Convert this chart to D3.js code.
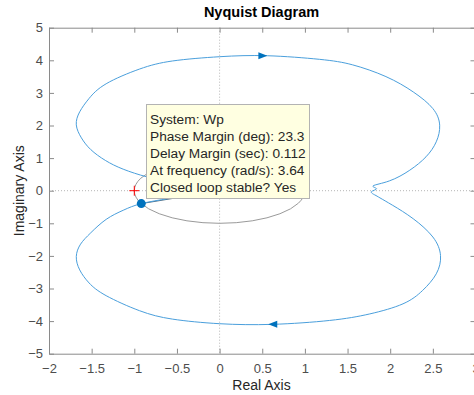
<!DOCTYPE html>
<html lang="en">
<head>
  <meta charset="UTF-8">
  <title>Nyquist Diagram</title>
  <script src="https://d3js.org/d3.v7.min.js"></script>
  <style>
    body { margin: 0; background: #fff; }
    svg { font-family: "Liberation Sans", Arial, Helvetica, sans-serif; }
    .tick text { fill: #4d4d4d; font-size: 13px; }
    .domain, .tick line { stroke: #8a8a8a; }
  </style>
</head>
<body>
  <svg width="474" height="395"></svg>

  <script>
    // tick values
    const xTicks = [-2, -1.5, -1, -0.5, 0, 0.5, 1, 1.5, 2, 2.5, 3];
    const yTicks = [-5, -4, -3, -2, -1, 0, 1, 2, 3, 4, 5];

    // negative-frequency branch (near origin -> upper loop -> wiggle on real axis)
    const branchUpper = [
      [-0.3, 0.12], [-0.6, 0.28], [-0.86, 0.43], [-1.13, 0.66], [-1.34, 0.93],
      [-1.51, 1.26], [-1.62, 1.62], [-1.68, 2.02], [-1.64, 2.42], [-1.53, 2.83],
      [-1.33, 3.28], [-0.94, 3.73], [-0.55, 3.98], [0, 4.11], [0.56, 4.14],
      [1.17, 4.03], [1.56, 3.86], [1.95, 3.5], [2.27, 3.03], [2.5, 2.52],
      [2.58, 2.01], [2.54, 1.5], [2.42, 1.04], [2.23, 0.63], [1.99, 0.3],
      [1.80, 0.15], [1.84, 0.06]
    ];
    // positive-frequency branch (wiggle -> lower loop -> back towards origin)
    const branchLower = [
      [1.84, 0.06], [1.78, -0.03], [1.82, -0.13], [1.88, -0.22], [2.03, -0.45],
      [2.27, -0.86], [2.5, -1.42], [2.59, -1.99], [2.54, -2.55], [2.38, -3.06],
      [2.15, -3.47], [1.76, -3.78], [1.29, -3.98], [0.62, -4.1], [0, -4.08],
      [-0.55, -3.94], [-0.94, -3.68], [-1.33, -3.22], [-1.53, -2.83], [-1.64, -2.43],
      [-1.68, -2.02], [-1.63, -1.64], [-1.51, -1.29], [-1.33, -0.88], [-1.13, -0.6],
      [-0.918, -0.396], [-0.6, -0.24], [-0.3, -0.1]
    ];

    // direction arrows: [re, im, direction]
    const arrows = [[0.56, 4.14, 1], [0.57, -4.1, -1]];
    // phase margin point on unit circle
    const pmPoint = [-0.918, -0.396];
    const critical = [-1, 0];

    const tipLines = [
      "System: Wp",
      "Phase Margin (deg): 23.3",
      "Delay Margin (sec): 0.112",
      "At frequency (rad/s): 3.64",
      "Closed loop stable? Yes"
    ];

    const svg = d3.select("svg");
    const margin = {top: 27.7, right: -1.5, bottom: 41.3, left: 49};
    const width = 474 - margin.left - margin.right,
          height = 395 - margin.top - margin.bottom;

    const x = d3.scaleLinear().domain([-2, 3]).range([margin.left, margin.left + width]);
    const y = d3.scaleLinear().domain([-5, 5]).range([margin.top + height, margin.top]);

    // zero lines
    svg.append("line")
        .attr("x1", x(0)).attr("x2", x(0))
        .attr("y1", y(5)).attr("y2", y(-5))
        .attr("stroke", "#b5b5b5").attr("stroke-dasharray", "1,2");
    svg.append("line")
        .attr("x1", x(-2)).attr("x2", x(3))
        .attr("y1", y(0)).attr("y2", y(0))
        .attr("stroke", "#b5b5b5").attr("stroke-dasharray", "1,2");

    // axes (ticks pointing inward)
    svg.append("g")
        .attr("transform", `translate(0,${y(-5)})`)
        .call(d3.axisBottom(x).tickValues(xTicks).tickSizeInner(-5).tickSizeOuter(0).tickPadding(10).tickFormat(d3.format("")));
    svg.append("g")
        .attr("transform", `translate(0,${y(5)})`)
        .call(d3.axisTop(x).tickValues(xTicks).tickSizeInner(-5).tickSizeOuter(0).tickFormat(""));
    svg.append("g")
        .attr("transform", `translate(${x(-2)},0)`)
        .call(d3.axisLeft(y).tickValues(yTicks).tickSizeInner(-5).tickSizeOuter(0).tickPadding(6));
    svg.append("g")
        .attr("transform", `translate(${x(3)},0)`)
        .call(d3.axisRight(y).tickValues(yTicks).tickSizeInner(-5).tickSizeOuter(0).tickFormat(""));

    // unit circle (gray)
    svg.append("ellipse")
        .attr("cx", x(0)).attr("cy", y(0))
        .attr("rx", x(1) - x(0)).attr("ry", y(0) - y(1))
        .attr("fill", "none").attr("stroke", "#9a9a9a").attr("stroke-width", 1);

    // line from origin to phase margin point
    svg.append("line")
        .attr("x1", x(0)).attr("y1", y(0))
        .attr("x2", x(pmPoint[0])).attr("y2", y(pmPoint[1]))
        .attr("stroke", "#4d6a80").attr("stroke-width", 1);

    // nyquist curve
    const line = d3.line()
        .x(d => x(d[0]))
        .y(d => y(d[1]))
        .curve(d3.curveNatural);

    svg.append("path")
        .datum(branchUpper.concat(branchLower.slice(1)))
        .attr("d", line)
        .attr("fill", "none")
        .attr("stroke", "#4a9fdc")
        .attr("stroke-width", 1);

    // arrows
    svg.selectAll("path.arrow")
        .data(arrows)
        .enter().append("path")
        .attr("class", "arrow")
        .attr("d", d => `M${x(d[0])},${y(d[1])} l${-9 * d[2]},-3.5 l0,7 Z`)
        .attr("fill", "#0072bd");

    // critical point
    svg.append("path")
        .attr("d", `M${x(critical[0]) - 5},${y(critical[1])} h10 M${x(critical[0])},${y(critical[1]) - 5} v10`)
        .attr("stroke", "#ff0000").attr("stroke-width", 1);

    // phase margin marker
    svg.append("circle")
        .attr("cx", x(pmPoint[0])).attr("cy", y(pmPoint[1]))
        .attr("r", 4.5)
        .attr("fill", "#0072bd");

    // data tip
    const tip = svg.append("g").attr("transform", "translate(146,104)");
    tip.append("rect")
        .attr("x", 0.5).attr("y", 0.5)
        .attr("width", 163).attr("height", 94)
        .attr("fill", "#ffffe1")
        .attr("stroke", "#b3b3b3");
    tip.selectAll("text")
        .data(tipLines)
        .enter().append("text")
        .attr("x", 4)
        .attr("y", (d, i) => 19.5 + i * 17.2)
        .attr("font-size", "13.7px")
        .attr("fill", "#262626")
        .text(d => d);

    // titles
    svg.append("text")
        .attr("x", 261.5).attr("y", 17)
        .attr("text-anchor", "middle")
        .attr("font-size", "14.5px").attr("font-weight", "bold")
        .attr("fill", "#000")
        .text("Nyquist Diagram");
    svg.append("text")
        .attr("x", 261.5).attr("y", 390)
        .attr("text-anchor", "middle")
        .attr("font-size", "14px")
        .attr("fill", "#262626")
        .text("Real Axis");
    svg.append("text")
        .attr("transform", "translate(24,190.7) rotate(-90)")
        .attr("text-anchor", "middle")
        .attr("font-size", "14px")
        .attr("fill", "#262626")
        .text("Imaginary Axis");
  </script>
</body>
</html>
